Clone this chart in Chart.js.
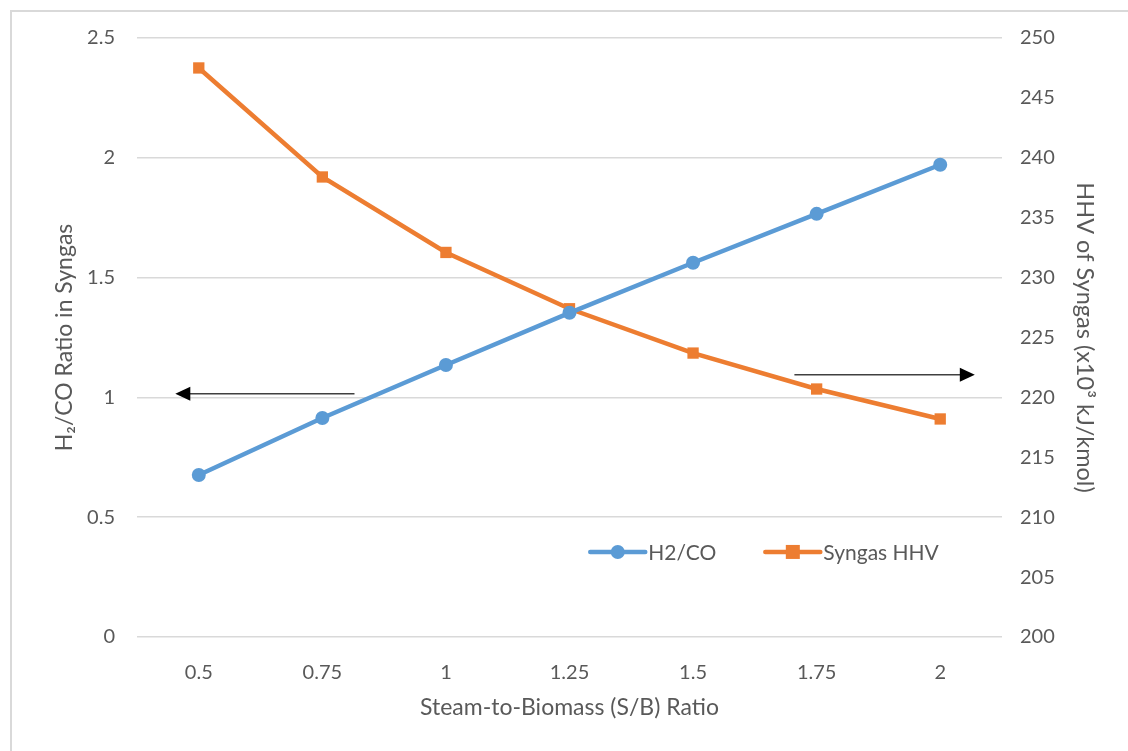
<!DOCTYPE html>
<html>
<head>
<meta charset="utf-8">
<script src="https://cdn.jsdelivr.net/npm/chart.js@4.4.1/dist/chart.umd.min.js"></script>
<style>
  html, body { margin: 0; padding: 0; background: #fff; overflow: hidden; }
  #wrap { position: relative; width: 1128px; height: 751px; }
  #frame { position: absolute; left: 10px; top: 10px; width: 1200px; height: 800px;
           border: 2px solid #d9d9d9; pointer-events: none; }
</style>
</head>
<body>
<div id="wrap">
  <canvas id="chart" width="1128" height="751"></canvas>
  <div id="frame"></div>
</div>
<script>
const sbRatio = ['0.5', '0.75', '1', '1.25', '1.5', '1.75', '2'];
const h2coRatio = [0.676, 0.914, 1.135, 1.353, 1.562, 1.766, 1.971];
const syngasHHV = [247.5, 238.4, 232.1, 227.4, 223.7, 220.7, 218.2];

// arrows pointing to the axis each series belongs to (category index, axis value)
const arrowLeft = { axis: 'y', from: [1.26, 1.015], to: [-0.19, 1.015] };
const arrowRight = { axis: 'y2', from: [4.82, 221.9], to: [6.28, 221.9] };

const BLUE = '#5b9bd5';
const ORANGE = '#ed7d31';
const TEXT = '#595959';
const GRID = '#d9d9d9';
const FONT = 'Lato, "Liberation Sans", sans-serif';

const arrowPlugin = {
    id: 'arrows',
    afterDatasetsDraw(chart) {
        const ctx = chart.ctx;
        [arrowLeft, arrowRight].forEach(a => {
            const x = chart.scales.x, y = chart.scales[a.axis];
            const x1 = x.getPixelForValue(a.from[0]), y1 = y.getPixelForValue(a.from[1]);
            const x2 = x.getPixelForValue(a.to[0]), y2 = y.getPixelForValue(a.to[1]);
            const dir = Math.sign(x2 - x1);
            ctx.save();
            ctx.strokeStyle = '#404040';
            ctx.lineWidth = 1.5;
            ctx.beginPath();
            ctx.moveTo(x1, y1);
            ctx.lineTo(x2 - dir * 12, y2);
            ctx.stroke();
            ctx.fillStyle = '#000';
            ctx.beginPath();
            ctx.moveTo(x2, y2);
            ctx.lineTo(x2 - dir * 15, y2 - 7);
            ctx.lineTo(x2 - dir * 15, y2 + 7);
            ctx.closePath();
            ctx.fill();
            ctx.restore();
        });
    }
};

// Excel-like legend sitting inside the plot area
const legendPlugin = {
    id: 'insideLegend',
    afterDraw(chart) {
        const ctx = chart.ctx;
        const area = chart.chartArea;
        let x = area.left + 0.524 * (area.right - area.left);
        const y = area.top + 0.858 * (area.bottom - area.top);
        ctx.save();
        ctx.font = '21px ' + FONT;
        ctx.textBaseline = 'middle';
        chart.data.datasets.forEach(ds => {
            ctx.strokeStyle = ds.borderColor;
            ctx.lineWidth = 4.5;
            ctx.lineCap = 'round';
            ctx.beginPath();
            ctx.moveTo(x, y);
            ctx.lineTo(x + 55, y);
            ctx.stroke();
            ctx.fillStyle = ds.backgroundColor;
            if (ds.pointStyle === 'rect') {
                ctx.fillRect(x + 27.5 - 7, y - 7, 14, 14);
            } else {
                ctx.beginPath();
                ctx.arc(x + 27.5, y, 7, 0, Math.PI * 2);
                ctx.fill();
            }
            ctx.fillStyle = TEXT;
            ctx.fillText(ds.label, x + 58, y + 1);
            x += 58 + ctx.measureText(ds.label).width + 49;
        });
        ctx.restore();
    }
};

const plainTick = v => String(+v.toFixed(2));

new Chart(document.getElementById('chart').getContext('2d'), {
    type: 'line',
    data: {
        labels: sbRatio,
        datasets: [{
            label: 'H2/CO',
            data: h2coRatio,
            yAxisID: 'y',
            borderColor: BLUE,
            backgroundColor: BLUE,
            borderWidth: 4.5,
            pointStyle: 'circle',
            pointRadius: 7,
            pointBorderWidth: 0,
            tension: 0
        }, {
            label: 'Syngas HHV',
            data: syngasHHV,
            yAxisID: 'y2',
            borderColor: ORANGE,
            backgroundColor: ORANGE,
            borderWidth: 4.5,
            pointStyle: 'rect',
            pointRadius: 8,
            pointBorderWidth: 0,
            tension: 0
        }]
    },
    options: {
        responsive: false,
        animation: false,
        layout: { padding: { top: 38, left: 0, right: 0, bottom: 0 } },
        plugins: {
            legend: { display: false },
            tooltip: { enabled: false }
        },
        scales: {
            x: {
                offset: true,
                grid: { display: false },
                border: { display: false },
                ticks: { color: TEXT, font: { family: FONT, size: 20 }, padding: 16 },
                title: {
                    display: true,
                    text: 'Steam-to-Biomass (S/B) Ratio',
                    color: TEXT,
                    font: { family: FONT, size: 23 },
                    padding: { bottom: 30 }
                },
                afterFit(scale) { scale.height = 114; }
            },
            y: {
                position: 'left',
                min: 0, max: 2.5,
                ticks: { stepSize: 0.5, callback: plainTick, color: TEXT, font: { family: FONT, size: 20 }, padding: 22 },
                grid: { color: GRID, lineWidth: 1.5, drawTicks: false },
                border: { display: false },
                title: {
                    display: true,
                    text: 'H₂/CO Ratio in Syngas',
                    color: TEXT,
                    font: { family: FONT, size: 23 },
                    padding: { top: 51 }
                },
                afterFit(scale) { scale.width = 137; }
            },
            y2: {
                position: 'right',
                min: 200, max: 250,
                ticks: { stepSize: 5, callback: plainTick, color: TEXT, font: { family: FONT, size: 20 }, padding: 18 },
                grid: { display: false, drawTicks: false },
                border: { display: false },
                title: {
                    display: true,
                    text: 'HHV of Syngas (x10³ kJ/kmol)',
                    color: TEXT,
                    font: { family: FONT, size: 23.5 },
                    padding: { top: 29 }
                },
                afterFit(scale) { scale.width = 126; }
            }
        }
    },
    plugins: [arrowPlugin, legendPlugin]
});
</script>
</body>
</html>
